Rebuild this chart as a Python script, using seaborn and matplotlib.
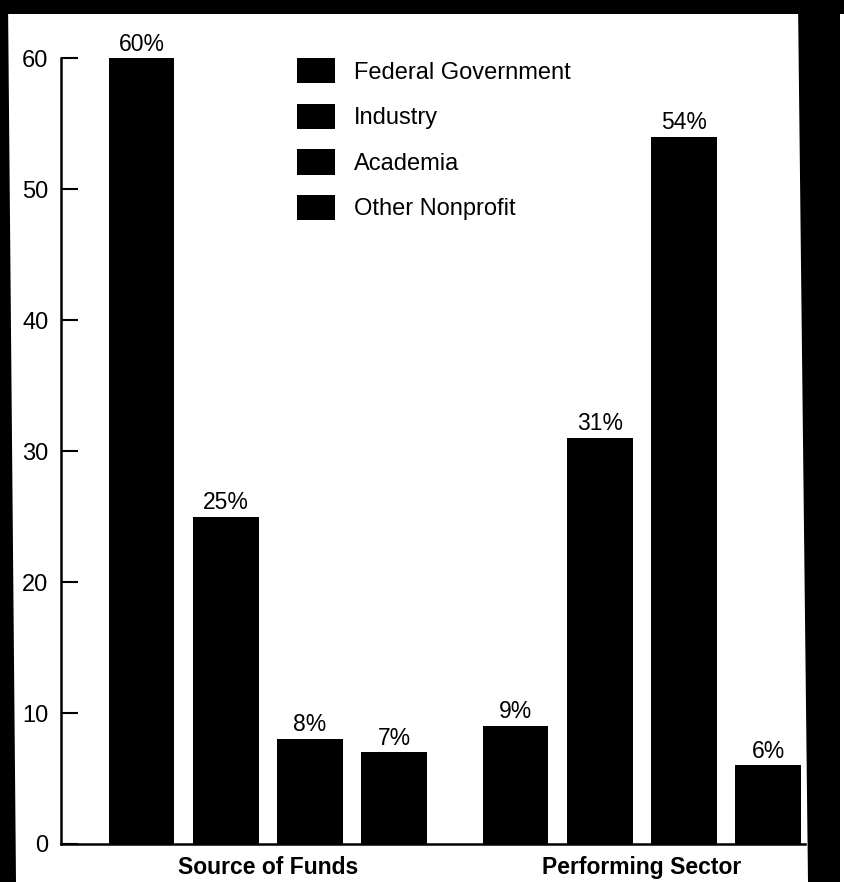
import matplotlib
matplotlib.use("Agg")
import matplotlib.pyplot as plt
from matplotlib.patches import Polygon
import pandas as pd
import seaborn as sns

# Data
groups = ["Source of Funds", "Performing Sector"]
sectors = ["Federal Government", "Industry", "Academia", "Other Nonprofit"]
source_of_funds = [60, 25, 8, 7]
performing_sector = [9, 31, 54, 6]
y_ticks = [0, 10, 20, 30, 40, 50, 60]

df = pd.DataFrame({
    "group": [groups[0]] * len(sectors) + [groups[1]] * len(sectors),
    "sector": sectors * 2,
    "share": source_of_funds + performing_sector,
})

sns.set_style("white")
plt.rcParams["font.family"] = ["Liberation Sans", "DejaVu Sans"]
plt.rcParams.update({
    "text.color": "black",
    "axes.labelcolor": "black",
    "xtick.color": "black",
    "ytick.color": "black",
})

W, H = 844, 882
fig = plt.figure(figsize=(W / 100, H / 100), dpi=100)
fig.patch.set_facecolor("white")


def fx(px):
    return px / W


def fy(py):
    return 1 - py / H


ax_left, ax_right, ax_top, ax_bottom = 61, 805, 19, 844
ax = fig.add_axes([fx(ax_left), fy(ax_bottom),
                   (ax_right - ax_left) / W, (ax_bottom - ax_top) / H])

sns.barplot(data=df, x="group", y="share", hue="sector",
            order=groups, hue_order=sectors,
            palette=["black"] * len(sectors), saturation=1,
            width=0.9, gap=0.22, errorbar=None, linewidth=0, ax=ax)

for container in ax.containers:
    ax.bar_label(container,
                 labels=[f"{v:g}%" for v in container.datavalues],
                 padding=2, fontsize=16.5, color="black")

# Axes, ticks and spines
ax.set_ylim(0, 63)
ax.set_xlim(-0.553, -0.553 + (ax_right - ax_left) / 374)
ax.set_yticks(y_ticks)
ax.set_xlabel("")
ax.set_ylabel("")
sns.despine(ax=ax)
ax.spines["left"].set_bounds(0, 60)
for s in ("left", "bottom"):
    ax.spines[s].set_linewidth(1.8)
    ax.spines[s].set_color("black")
ax.tick_params(axis="y", direction="in", length=12, width=1.5, pad=9,
               labelsize=17, colors="black", left=True)
ax.tick_params(axis="x", length=0, pad=8.5, labelsize=16.5, colors="black")
for lbl in ax.get_xticklabels():
    lbl.set_fontweight("bold")

# Legend
sns.move_legend(ax, loc="upper left",
                bbox_to_anchor=(fx(297), fy(58)), bbox_transform=fig.transFigure,
                frameon=False, title=None, fontsize=17, labelcolor="black",
                handlelength=1.6, handleheight=1.27, labelspacing=0.85,
                handletextpad=0.8, borderpad=0, borderaxespad=0)

# Dark page edges around the chart
edges = [
    [(0, 0), (W, 0), (W, 14), (0, 14)],
    [(0, 0), (8, 0), (16, H), (0, H)],
    [(798, 0), (840, 0), (840, H), (808, H)],
]
for pts in edges:
    fig.add_artist(Polygon([(fx(x), fy(y)) for x, y in pts], closed=True,
                           transform=fig.transFigure, facecolor="black",
                           edgecolor="none", zorder=5))

fig.savefig("out.png", dpi=100)
